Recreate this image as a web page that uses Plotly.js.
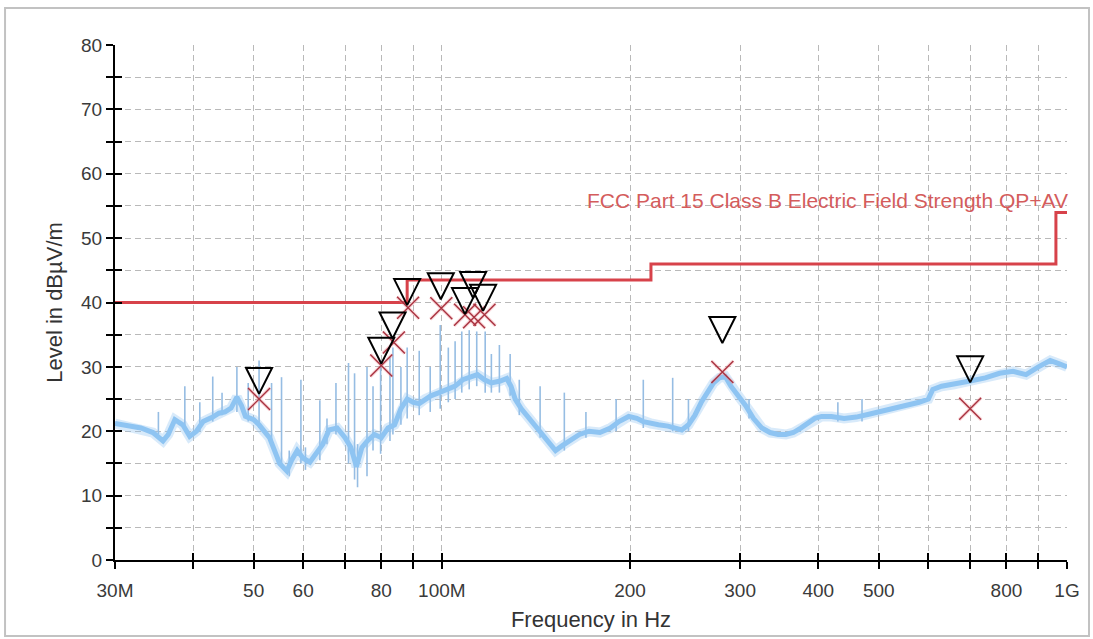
<!DOCTYPE html>
<html>
<head>
<meta charset="utf-8">
<script src="https://cdn.plot.ly/plotly-3.0.1.min.js"></script>
<style>
  html, body { margin: 0; padding: 0; background: #ffffff; }
  #chart { width: 1093px; height: 639px; }
</style>
</head>
<body>
<div id="chart"></div>
<script>
// ---- Spectrum (peak trace), frequency in MHz, level in dBµV/m ----
const traceFreq = [30, 31.5, 33, 34.5, 35.8, 36.5, 37.4, 38.5, 39.5, 40.5, 41.5, 43, 44, 45, 46, 47, 47.8, 48.5, 50, 51, 52, 53, 54, 55, 56.5, 57.5, 58.7, 60, 61.5, 63, 64.5, 66, 68, 70, 71.5, 73, 74.5, 76, 78, 80, 82, 84, 86, 88, 90, 92, 94, 96, 99, 102, 105, 108, 111, 114, 117, 120, 124, 127, 129, 131, 134, 138, 143, 148, 152, 156, 160, 166, 172, 179, 186, 192, 199, 205, 210, 216, 222, 230, 236, 242, 248, 254, 260, 266, 272, 278, 284, 290, 298, 306, 315, 325, 335, 345, 355, 365, 375, 385, 395, 405, 420, 440, 460, 480, 500, 520, 540, 560, 580, 600, 610, 630, 660, 700, 740, 780, 820, 860, 900, 940, 970, 1000];
const traceLevel = [21.2, 20.8, 20.5, 19.8, 18.5, 19.5, 21.8, 21.0, 19.2, 20.0, 21.5, 22.2, 22.8, 23.0, 23.6, 25.3, 24.0, 22.3, 21.8, 21.0, 20.0, 19.0, 17.0, 15.0, 13.8, 15.5, 17.0, 15.8, 15.2, 16.5, 18.0, 20.2, 20.5, 19.0, 17.5, 14.5, 17.5, 18.5, 19.5, 19.0, 20.5, 21.0, 23.5, 25.0, 24.5, 24.3, 25.0, 25.5, 26.0, 26.5, 27.0, 28.0, 28.5, 28.8, 28.0, 27.5, 27.8, 28.2, 27.0, 25.0, 23.5, 22.0, 20.0, 18.5, 17.0, 17.8, 18.5, 19.5, 20.0, 19.8, 20.5, 21.5, 22.3, 22.0, 21.5, 21.2, 21.0, 20.8, 20.5, 20.2, 21.0, 22.5, 24.5, 26.0, 27.5, 28.3, 28.5, 27.0, 25.5, 24.0, 22.0, 20.5, 19.8, 19.5, 19.5, 19.8, 20.5, 21.3, 22.0, 22.3, 22.3, 22.0, 22.2, 22.6, 23.0, 23.4, 23.8, 24.2, 24.5, 25.0, 26.5, 27.0, 27.3, 27.8, 28.3, 29.0, 29.3, 28.8, 30.0, 31.0, 30.5, 30.0];

// ---- Narrow-band spikes: frequency, lower and upper level ----
const spikeFreq = [35.2, 38.8, 41.0, 43.0, 44.5, 47.0, 49.0, 51.0, 53.4, 55.4, 57.0, 59.5, 60.5, 63.8, 65.5, 67.7, 70.9, 72.5, 73.3, 75.9, 77.6, 79.8, 82.6, 83.5, 86.0, 88.0, 92.0, 95.8, 99.4, 102.4, 105.0, 107.6, 110.6, 113.7, 117.3, 120.0, 123.6, 128.6, 133.0, 143.6, 157.0, 170.0, 190.0, 210.0, 234.0, 248.0, 310.0, 430.0, 470.0];
const spikeLow  = [19.5, 20.5, 20.0, 21.5, 22.5, 23.0, 21.5, 20.5, 18.0, 14.5, 13.0, 15.0, 14.0, 15.5, 18.0, 19.5, 15.0, 12.5, 11.3, 13.0, 17.0, 16.5, 18.5, 19.5, 21.0, 22.0, 22.5, 23.0, 23.5, 24.5, 25.0, 26.0, 26.5, 27.0, 26.0, 26.0, 26.0, 25.5, 22.5, 19.0, 17.0, 19.0, 20.0, 20.5, 20.0, 20.0, 22.0, 21.5, 21.5];
const spikeHigh = [23.0, 27.0, 24.5, 28.5, 26.0, 30.0, 27.5, 31.0, 27.5, 28.4, 17.0, 28.0, 17.5, 24.8, 22.0, 27.5, 30.6, 29.0, 18.0, 30.0, 27.0, 31.0, 31.5, 33.0, 30.0, 33.0, 32.5, 30.0, 36.5, 33.0, 34.0, 35.5, 35.7, 35.5, 35.5, 32.0, 33.4, 32.0, 28.0, 27.0, 26.0, 23.0, 25.0, 28.0, 28.3, 25.0, 25.0, 24.5, 25.0];

// ---- Limit: FCC Part 15 Class B (step line) ----
const limitFreq  = [30, 88, 88, 216, 216, 960, 960, 1000];
const limitLevel = [40, 40, 43.5, 43.5, 46, 46, 54, 54];
const limitName = "FCC Part 15 Class B Electric Field Strength QP+AV";
const limitLabelLevel = 55.9;

// ---- Final measurement points ----
const qpFreq  = [51.0, 80.0, 83.4, 88.0, 99.6, 108.9, 112.2, 116.4, 281, 700];
const qpLevel = [25.8, 30.5, 34.4, 39.6, 40.5, 38.2, 40.7, 38.7, 33.7, 27.6];
const avFreq  = [51.0, 80.0, 83.8, 88.3, 99.8, 108.9, 112.6, 117.0, 281, 700];
const avLevel = [25.0, 30.2, 33.8, 39.2, 39.1, 38.1, 37.7, 38.1, 29.2, 23.5];

// ---- Axis ticks ----
const xTickVals = [30, 40, 50, 60, 70, 80, 90, 100, 200, 300, 400, 500, 600, 700, 800, 900, 1000];
const xTickText = ["30M", "", "50", "60", "", "80", "", "100M", "200", "300", "400", "500", "", "", "800", "", "1G"];
const yTickVals = [0, 5, 10, 15, 20, 25, 30, 35, 40, 45, 50, 55, 60, 65, 70, 75, 80];
const yTickText = ["0", "", "10", "", "20", "", "30", "", "40", "", "50", "", "60", "", "70", "", "80"];

// spike segments built from the arrays above
const spX = [], spY = [];
for (let i = 0; i < spikeFreq.length; i++) {
  spX.push(spikeFreq[i], spikeFreq[i], null);
  spY.push(spikeLow[i], spikeHigh[i], null);
}

const FONT = "Arial, 'Liberation Sans', sans-serif";
const xRange = [Math.log10(30), Math.log10(1000)];

const traces = [
  { x: spX, y: spY, type: "scatter", mode: "lines",
    line: { color: "#96bde3", width: 1.6 }, hoverinfo: "skip", showlegend: false },
  { x: traceFreq, y: traceLevel, type: "scatter", mode: "lines",
    line: { color: "rgba(142,196,242,0.35)", width: 10 }, hoverinfo: "skip", showlegend: false },
  { x: traceFreq, y: traceLevel, type: "scatter", mode: "lines",
    line: { color: "#8ec4f2", width: 5 }, hoverinfo: "skip", showlegend: false },
  { x: limitFreq, y: limitLevel, type: "scatter", mode: "lines",
    line: { color: "#d7424a", width: 3 }, hoverinfo: "skip", showlegend: false },
  { x: avFreq, y: avLevel, type: "scatter", mode: "markers",
    marker: { symbol: "x-thin-open", size: 22, color: "rgba(240,140,150,0.35)",
              line: { color: "rgba(240,140,150,0.35)", width: 3.5 } },
    hoverinfo: "skip", showlegend: false },
  { x: avFreq, y: avLevel, type: "scatter", mode: "markers",
    marker: { symbol: "x-thin-open", size: 22, color: "#a8323f", line: { color: "#a8323f", width: 1.4 } },
    hoverinfo: "skip", showlegend: false },
  { x: qpFreq, y: qpLevel, type: "scatter", mode: "markers",
    marker: { symbol: "arrow-down-open", size: 26, color: "#000", line: { color: "#000", width: 2 } },
    hoverinfo: "skip", showlegend: false },
  { x: [], y: [], xaxis: "x2", yaxis: "y2", type: "scatter", mode: "lines",
    hoverinfo: "skip", showlegend: false }
];

const axisCommon = {
  showline: true, linecolor: "#000", linewidth: 2,
  ticks: "outside", ticklen: 7, tickwidth: 2, tickcolor: "#000",
  gridcolor: "#b9b9b9", gridwidth: 1, griddash: "6px,4px",
  zeroline: false,
  tickfont: { family: FONT, size: 19, color: "#3a3a3a" }
};

const layout = {
  width: 1093, height: 639,
  margin: { l: 115, r: 26, t: 45, b: 79 },
  paper_bgcolor: "#ffffff", plot_bgcolor: "#ffffff",
  showlegend: false,
  xaxis: Object.assign({}, axisCommon, {
    type: "log", range: xRange, tickmode: "array",
    tickvals: xTickVals, ticktext: xTickText, ticklabelstandoff: 5,
    title: { text: "Frequency in Hz", font: { family: FONT, size: 22, color: "#333" }, standoff: 12 }
  }),
  yaxis: Object.assign({}, axisCommon, {
    range: [0, 80], tickmode: "array", tickvals: yTickVals, ticktext: yTickText,
    title: { text: "Level in dBµV/m", font: { family: FONT, size: 22, color: "#333" }, standoff: 12 }
  }),
  xaxis2: {
    type: "log", range: xRange, overlaying: "x", anchor: "y2", side: "bottom",
    tickmode: "array", tickvals: xTickVals, ticks: "inside", ticklen: 7, tickwidth: 2, tickcolor: "#000",
    showticklabels: false, showgrid: false, showline: false, zeroline: false
  },
  yaxis2: {
    range: [0, 80], overlaying: "y", anchor: "x2", side: "left",
    tickmode: "array", tickvals: yTickVals, ticks: "inside", ticklen: 7, tickwidth: 2, tickcolor: "#000",
    showticklabels: false, showgrid: false, showline: false, zeroline: false
  },
  annotations: [{
    xref: "paper", yref: "y", x: 1.003, y: limitLabelLevel,
    xanchor: "right", yanchor: "middle", showarrow: false,
    text: limitName, font: { family: FONT, size: 21, color: "#d45c5c" }
  }],
  shapes: [{
    type: "rect", xref: "paper", yref: "paper",
    x0: -0.1155, x1: 1.0231, y0: -0.1476, y1: 1.0718,
    line: { color: "#c2c2c2", width: 2 }, fillcolor: "rgba(0,0,0,0)", layer: "below"
  }]
};

Plotly.newPlot("chart", traces, layout, { staticPlot: true, displayModeBar: false });
</script>
</body>
</html>
